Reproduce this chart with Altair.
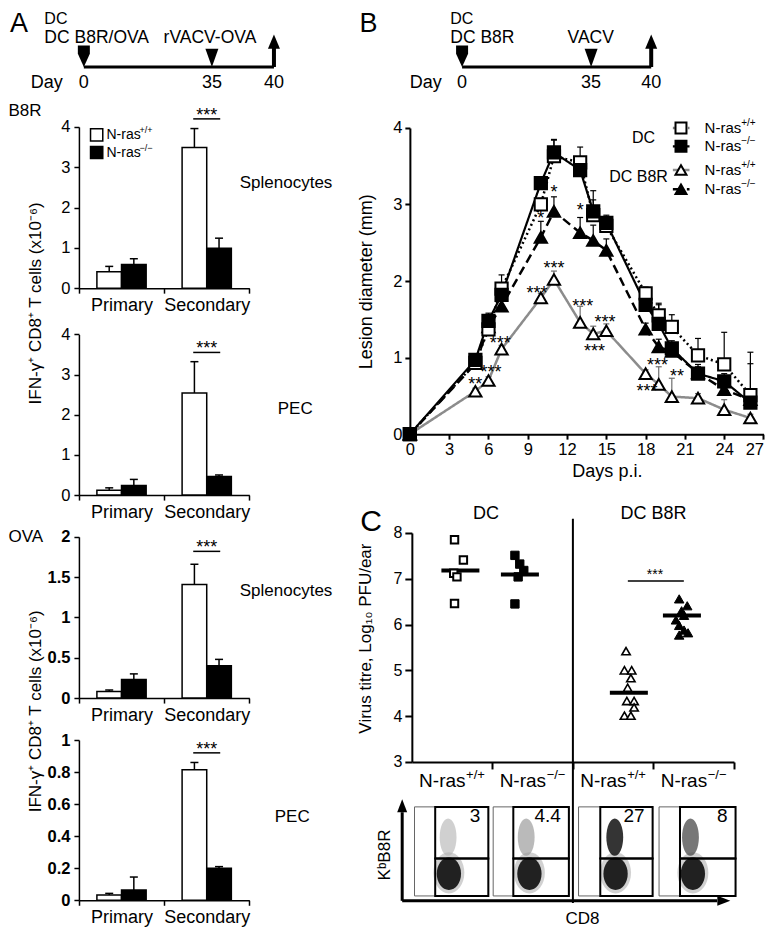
import altair as alt
import pandas as pd

FONT = "Liberation Sans"
W, H = 761, 919
KX, KY = 0.985, 0.983

# ----------------------------- data -----------------------------
timeline_days = [0, 35, 40]
bar_groups = ["Primary", "Secondary"]
bar_genos = ["wt", "ko"]

# Panel A bars, order: Primary wt, Primary ko, Secondary wt, Secondary ko
a_b8r_spl_mean = [0.41, 0.585, 3.49, 0.99]
a_b8r_spl_top = [0.54, 0.73, 3.96, 1.24]
a_b8r_pec_mean = [0.12, 0.24, 2.54, 0.46]
a_b8r_pec_top = [0.18, 0.39, 3.32, 0.50]
a_ova_spl_mean = [0.08, 0.23, 1.41, 0.40]
a_ova_spl_top = [0.10, 0.30, 1.66, 0.48]
a_ova_pec_mean = [0.033, 0.064, 0.814, 0.20]
a_ova_pec_top = [0.043, 0.145, 0.86, 0.21]

# Panel B lesion diameter (mm)
b_days = [0, 5, 6, 7, 10, 11, 13, 14, 15, 18, 19, 20, 22, 24, 26]
b_dc_wt = [0, 0.93, 1.37, 1.90, 3.00, 3.63, 3.55, 2.86, 2.72, 1.84, 1.55, 1.40, 1.03, 0.91, 0.51]
b_dc_wt_err = [0, 0.06, 0.08, 0.18, 0.08, 0.22, 0.20, 0.32, 0.10, 0.08, 0.14, 0.16, 0.22, 0.42, 0.56]
b_dc_ko = [0, 0.97, 1.48, 1.82, 3.28, 3.68, 3.45, 2.91, 2.76, 1.69, 1.44, 1.12, 0.79, 0.69, 0.41]
b_dc_ko_err = [0, 0.08, 0.10, 0.08, 0.08, 0.16, 0.10, 0.15, 0.10, 0.08, 0.27, 0.10, 0.12, 0.10, 0.51]
b_b8r_wt = [0, 0.56, 0.70, 1.11, 1.78, 2.02, 1.46, 1.31, 1.35, 0.79, 0.65, 0.49, 0.47, 0.32, 0.21]
b_b8r_wt_err = [0, 0.04, 0.05, 0.05, 0.06, 0.11, 0.21, 0.10, 0.09, 0.05, 0.23, 0.24, 0.06, 0.13, 0.05]
b_b8r_ko = [0, 0.92, 1.40, 1.67, 2.57, 2.91, 2.63, 2.53, 2.40, 1.37, 1.14, 1.08, 0.80, 0.58, 0.45]
b_b8r_ko_err = [0, 0.05, 0.05, 0.08, 0.21, 0.19, 0.20, 0.20, 0.15, 0.08, 0.10, 0.08, 0.08, 0.10, 0.08]
b_star_text = ["*", "*", "*", "***", "***", "***", "***", "***", "***", "***", "**", "***", "**", "***"]
b_star_day = [11, 13, 10, 11, 9.7, 13.2, 14.9, 14.1, 6.9, 6.2, 5.0, 18.9, 20.4, 18.1]
b_star_y = [3.22, 2.98, 2.87, 2.22, 1.90, 1.72, 1.52, 1.14, 1.24, 0.86, 0.71, 0.96, 0.81, 0.62]

# Panel C virus titre (log10 PFU/ear)
c_dc_wt_x = [0.53, 0.64, 0.52, 0.56, 0.53]
c_dc_wt_y = [7.85, 7.41, 7.12, 7.04, 6.46]
c_dc_ko_x = [1.28, 1.34, 1.39, 1.32, 1.28]
c_dc_ko_y = [7.51, 7.32, 7.18, 7.04, 6.45]
c_b8r_wt_x = [2.66, 2.64, 2.73, 2.72, 2.68, 2.67, 2.76, 2.76, 2.64, 2.72]
c_b8r_wt_y = [5.42, 5.00, 5.00, 4.83, 4.62, 4.33, 4.33, 4.19, 4.01, 4.01]
c_b8r_ko_x = [3.32, 3.42, 3.35, 3.38, 3.28, 3.32, 3.38, 3.32, 3.43]
c_b8r_ko_y = [6.56, 6.41, 6.30, 6.20, 6.10, 5.98, 5.88, 5.77, 5.82]
c_median_x = [0.603, 1.342, 2.695, 3.354]
c_median_y = [7.18, 7.09, 4.51, 6.20]
c_group_x = [0.5, 1.5, 2.5, 3.5]
c_sup = ["+/+", "\u2212/\u2212", "+/+", "\u2212/\u2212"]
flow_pct = ["3", "4.4", "27", "8"]
flow_box_left = [0.033, 1.01, 2.07, 3.07]
flow_box_right = [0.95, 1.95, 2.99, 4.02]
flow_gate_left = [0.29, 1.26, 2.34, 3.33]


# ----------------------------- helpers -----------------------------
def PX(v):
    return v * KX


def PY(v):
    return v * KY


def SX(domain, rng, **kw):
    return alt.Scale(domain=domain, range=[PX(v) for v in rng], nice=False, zero=False, **kw)


def SY(domain, rng, **kw):
    return alt.Scale(domain=domain, range=[PY(v) for v in rng], nice=False, zero=False, **kw)


def T(data, xs, ys, xt="Q", align="left", baseline="alphabetic", weight="normal", dx=0, dy=0, angle=0):
    return alt.Chart(pd.DataFrame(data)).mark_text(
        font=FONT, color="black", align=align, baseline=baseline, fontWeight=weight,
        dx=dx, dy=dy, angle=angle).encode(
        x=alt.X(f"x:{xt}", scale=xs, axis=None),
        y=alt.Y("y:Q", scale=ys, axis=None),
        text=alt.Text("t:N"),
        size=alt.Size("fs:Q", scale=None, legend=None))


PENT = "M-1,-3.6L1,-3.6L1,-2.2L0,0L-1,-2.2Z"
TRI_DOWN = "M-1,-2.8L1,-2.8L0,0Z"
ARROW_UP = "M0,0L1,2.4L-1,2.4Z"
ARROW_UP_S = "M0,0L1,2.6L-1,2.6Z"
ARROW_RIGHT_S = "M0,0L-2.6,1L-2.6,-1Z"
ELLIPSE = "M0,-1A0.75,1 0 1,1 0,1A0.75,1 0 1,1 0,-1Z"
ELLIPSE_N = "M0,-1A0.45,1 0 1,1 0,1A0.45,1 0 1,1 0,-1Z"

ALL = []


# ----------------------------- headers -----------------------------
def header(day_px, left_texts):
    xs = SX(timeline_days, day_px)
    ys = SY([0, 1, 2, 3], [16, 35.5, 60, 81])

    def X(f):
        return alt.X(f, scale=xs, axis=None)

    def Y(f):
        return alt.Y(f, scale=ys, axis=None)

    line = alt.Chart(pd.DataFrame({"a": [0], "b": [40], "r": [2]})).mark_rule(
        strokeWidth=3, color="black").encode(x=X("a:Q"), x2="b:Q", y=Y("r:Q"))
    shaft = alt.Chart(pd.DataFrame({"d": [40], "r1": [2], "r2": [1.2]})).mark_rule(
        strokeWidth=4, color="black").encode(x=X("d:Q"), y=Y("r1:Q"), y2="r2:Q")

    def marker(day, row, shape, size):
        return alt.Chart(pd.DataFrame({"d": [day], "r": [row]})).mark_point(
            shape=shape, size=size, filled=True, color="black", opacity=1, strokeWidth=0).encode(
            x=X("d:Q"), y=Y("r:Q"))

    texts = T({"x": [t[1] for t in left_texts], "y": [t[2] for t in left_texts],
               "t": [t[0] for t in left_texts], "fs": [t[3] for t in left_texts]}, xs, ys)
    nums = T({"x": timeline_days, "y": [3, 3, 3], "t": ["0", "35", "40"], "fs": [18, 18, 18]},
             xs, ys, align="center")
    return [line, shaft, marker(0, 2, PENT, 144), marker(35, 2, TRI_DOWN, 169),
            marker(40, 0.56, ARROW_UP, 144), texts, nums]


ALL += header([77, 207, 270], [("A", -20.2, 0.45, 27), ("DC", -10.8, 0, 16),
                                ("DC B8R/OVA", -10.8, 1, 17.5), ("rVACV-OVA", 21.8, 1, 17.5),
                                ("Day", -14.5, 3, 18)])
ALL += header([461, 592, 653], [("B", -27.8, 0.45, 27), ("DC", -3.2, 0, 16),
                                 ("DC B8R", -3.2, 1, 17.5), ("VACV", 28.6, 1, 17.5),
                                 ("Day", -14.2, 3, 18)])


# ----------------------------- bar panels -----------------------------
FILL = alt.Scale(domain=bar_genos, range=["white", "black"])


def bar_panel(mean, top, ydom, ypx, ticks, bold, sig, labels, ytitle=None, title_y=None):
    xs = alt.Scale(domain=bar_groups, range=[PX(72), PX(245)], paddingInner=0, paddingOuter=0)
    ys = SY(ydom, ypx)
    d = pd.DataFrame({"g": ["Primary", "Primary", "Secondary", "Secondary"],
                      "k": bar_genos * 2, "v": mean, "top": top})
    xo = alt.XOffset("k:N", scale=alt.Scale(domain=bar_genos, paddingInner=0, paddingOuter=0.73))
    ykw = dict(orient="left", offset=-PX(72), values=ticks, format="~g", tickSize=5, tickWidth=1.5,
               domainWidth=1.5, labelFontSize=16.5, labelFontWeight="bold" if bold else "normal",
               labelPadding=4, labelFlush=False, labelOverlap=False)
    if ytitle:
        ykw.update(title=ytitle, titleAngle=270, titleAlign="center", titleBaseline="middle",
                   titleX=PX(28) - PX(72), titleY=PY(title_y), titleFontSize=17,
                   titleFontWeight="normal")
    else:
        ykw.update(title=None)
    xaxis = alt.Axis(orient="bottom", offset=PY(ypx[0]) - H, tickBand="extent", tickSize=5,
                     tickWidth=1.5, domainWidth=1.5, labelFontSize=18, labelPadding=3,
                     labelAngle=0, title=None)
    bars = alt.Chart(d).mark_bar(stroke="black", strokeWidth=1.5).encode(
        x=alt.X("g:N", scale=xs, axis=xaxis), xOffset=xo,
        y=alt.Y("v:Q", scale=ys, axis=alt.Axis(**ykw)),
        fill=alt.Fill("k:N", scale=FILL, legend=None))
    err = alt.Chart(d).mark_rule(strokeWidth=1.5, color="black").encode(
        x=alt.X("g:N", scale=xs, axis=None), xOffset=xo,
        y=alt.Y("v:Q", scale=ys, axis=None), y2="top:Q")
    cap = alt.Chart(d).mark_tick(size=8, thickness=1.5, color="black", opacity=1).encode(
        x=alt.X("g:N", scale=xs, axis=None), xOffset=xo,
        y=alt.Y("top:Q", scale=ys, axis=None))
    sigline = alt.Chart(pd.DataFrame({"g": ["Secondary"], "y": [sig]})).mark_tick(
        size=27, thickness=1.5, color="black", opacity=1).encode(
        x=alt.X("g:N", scale=xs, axis=None), y=alt.Y("y:Q", scale=ys, axis=None))
    stars = T({"x": ["Secondary"], "y": [sig], "t": ["***"], "fs": [18]}, xs, ys, xt="N",
              align="center", dy=2)
    layers = [bars, err, cap, sigline, stars]
    for (txt, grp, yv, dx, base) in labels:
        layers.append(T({"x": [grp], "y": [yv], "t": [txt], "fs": [17]}, xs, ys, xt="N",
                        align="left", baseline=base, dx=dx))
    return layers


YT = "IFN-\u03b3\u207a CD8\u207a T cells (x10\u207b\u2076)"
ALL += bar_panel(a_b8r_spl_mean, a_b8r_spl_top, [0, 4], [285, 121], [0, 1, 2, 3, 4], False, 4.20,
                 [("Splenocytes", "Secondary", 2.6, 33, "middle"),
                  ("B8R", "Primary", 4.27, -113, "alphabetic")],
                 ytitle=YT, title_y=300)
ALL += bar_panel(a_b8r_pec_mean, a_b8r_pec_top, [0, 4], [495.5, 332], [0, 1, 2, 3, 4], False, 3.55,
                 [("PEC", "Secondary", 2.13, 71, "middle")])
ALL += bar_panel(a_ova_spl_mean, a_ova_spl_top, [0, 2], [702, 538], [0, 0.5, 1, 1.5, 2], True, 1.82,
                 [("Splenocytes", "Secondary", 1.33, 33, "middle"),
                  ("OVA", "Primary", 2.0, -113, "middle")],
                 ytitle=YT, title_y=715)
ALL += bar_panel(a_ova_pec_mean, a_ova_pec_top, [0, 1], [907.7, 744.7], [0, 0.2, 0.4, 0.6, 0.8, 1],
                 True, 0.92, [("PEC", "Secondary", 0.52, 68, "middle")])

# legend of panel A
lxs = SX([0, 10], [80, 180])
lys = SY([0, 1], [129, 147])
ALL += [
    alt.Chart(pd.DataFrame({"x": [1, 1], "y": [0, 1], "k": bar_genos})).mark_point(
        shape="square", size=150, filled=True, stroke="black", strokeWidth=1.5, opacity=1).encode(
        x=alt.X("x:Q", scale=lxs, axis=None), y=alt.Y("y:Q", scale=lys, axis=None),
        fill=alt.Fill("k:N", scale=FILL, legend=None)),
    T({"x": [2, 2], "y": [0, 1], "t": ["N-ras", "N-ras"], "fs": [14, 14]}, lxs, lys, baseline="middle"),
    T({"x": [5.35, 5.35], "y": [0, 1], "t": ["+/+", "\u2212/\u2212"], "fs": [9, 9]}, lxs, lys,
      baseline="middle", dy=-5),
]

# ----------------------------- panel B -----------------------------
xsB = SX([0, 27], [408, 767])
ysB = SY([0, 4], [433.5, 122])
axis_xB = alt.Axis(orient="bottom", offset=PY(433.5) - H, values=list(range(0, 28, 3)), tickSize=5,
                   tickWidth=2, domainWidth=2, labelFontSize=16.5, labelPadding=2, labelFlush=False,
                   labelOverlap=False, labelAngle=0,
                   labelAlign=alt.ExprRef(expr="datum.value == 27 ? 'right' : 'center'"),
                   title="Days p.i.", titleX=PX(608),
                   titleY=PY(477) - PY(433.5), titleAlign="center", titleBaseline="alphabetic",
                   titleFontSize=18, titleFontWeight="normal")
axis_yB = alt.Axis(orient="left", offset=-PX(408), values=[0, 1, 2, 3, 4], tickSize=5, tickWidth=2,
                   domainWidth=2, labelFontSize=16.5, labelPadding=3, labelFlush=False,
                   title="Lesion diameter (mm)", titleX=PX(364) - PX(408), titleY=PY(278),
                   titleAngle=270, titleAlign="center", titleBaseline="middle", titleFontSize=18,
                   titleFontWeight="normal")

series = [
    (b_b8r_wt, b_b8r_wt_err, "triangle-up", "white", "#8c8c8c", [1, 0], 2.5),
    (b_b8r_ko, b_b8r_ko_err, "triangle-up", "black", "black", [9, 5], 2.5),
    (b_dc_wt, b_dc_wt_err, "square", "white", "black", [2, 3], 2.5),
    (b_dc_ko, b_dc_ko_err, "square", "black", "black", [1, 0], 2.2),
]
lines_B, errs_B, marks_B = [], [], []
for i, (vals, errs, shape, fill, col, dash, lw) in enumerate(series):
    d = pd.DataFrame({"day": b_days, "v": vals, "top": [v + e for v, e in zip(vals, errs)]})
    first = i == 0
    lines_B.append(alt.Chart(d).mark_line(color=col, strokeDash=dash, strokeWidth=lw).encode(
        x=alt.X("day:Q", scale=xsB, axis=axis_xB if first else None),
        y=alt.Y("v:Q", scale=ysB, axis=axis_yB if first else None)))
    de = d[[e > 0 for e in errs]]
    ecol = "#6e6e6e" if col != "black" else "black"
    errs_B.append(alt.Chart(de).mark_rule(color=ecol, strokeWidth=1.2).encode(
        x=alt.X("day:Q", scale=xsB, axis=None), y=alt.Y("v:Q", scale=ysB, axis=None), y2="top:Q"))
    errs_B.append(alt.Chart(de).mark_tick(orient="horizontal", size=6, thickness=1.2, color=ecol,
                                          opacity=1).encode(
        x=alt.X("day:Q", scale=xsB, axis=None), y=alt.Y("top:Q", scale=ysB, axis=None)))
    marks_B.append(alt.Chart(d).mark_point(shape=shape, size=150, filled=True, fill=fill,
                                           stroke="black", strokeWidth=2, opacity=1).encode(
        x=alt.X("day:Q", scale=xsB, axis=None), y=alt.Y("v:Q", scale=ysB, axis=None)))

leg_rows = [4.0, 3.76, 3.45, 3.2]
leg_B = []
leg_line_col = ["#7a7a7a", "black", "#8c8c8c", "black"]
for (vals, errs, shape, fill, col, dash, lw), yy, lc in zip([series[2], series[3], series[0], series[1]],
                                                          leg_rows, leg_line_col):
    leg_B.append(alt.Chart(pd.DataFrame({"a": [20.08], "b": [21.35], "y": [yy]})).mark_rule(
        color=lc, strokeDash=dash, strokeWidth=lw).encode(
        x=alt.X("a:Q", scale=xsB, axis=None), x2="b:Q", y=alt.Y("y:Q", scale=ysB, axis=None)))
    leg_B.append(alt.Chart(pd.DataFrame({"x": [20.7], "y": [yy]})).mark_point(
        shape=shape, size=120, filled=True, fill=fill, stroke="black", strokeWidth=2, opacity=1).encode(
        x=alt.X("x:Q", scale=xsB, axis=None), y=alt.Y("y:Q", scale=ysB, axis=None)))
leg_B.append(T({"x": [22.5] * 4, "y": leg_rows, "t": ["N-ras"] * 4, "fs": [15] * 4}, xsB, ysB,
               baseline="middle"))
leg_B.append(T({"x": [25.3] * 4, "y": leg_rows, "t": ["+/+", "\u2212/\u2212", "+/+", "\u2212/\u2212"],
                "fs": [10] * 4}, xsB, ysB, baseline="middle", dy=-5))
leg_B.append(T({"x": [18.72, 19.7], "y": [3.87, 3.36], "t": ["DC", "DC B8R"], "fs": [16, 16]},
               xsB, ysB, align="right", baseline="middle"))
stars_B = T({"x": b_star_day, "y": b_star_y, "t": b_star_text, "fs": [18] * len(b_star_text)},
            xsB, ysB, align="center", baseline="middle", dy=5)
ALL += lines_B + errs_B + marks_B + leg_B + [stars_B]

# ----------------------------- panel C -----------------------------
xsC = SX([0, 4], [410, 737])
ysC = SY([3, 8], [767, 534])
axis_yC = alt.Axis(orient="left", offset=-PX(410), values=[3, 4, 5, 6, 7, 8], tickSize=7, tickWidth=2,
                   domainWidth=2, labelFontSize=16, labelPadding=3, labelFlush=False,
                   title="Virus titre, Log\u2081\u2080 PFU/ear", titleX=PX(363) - PX(410),
                   titleY=PY(641), titleAngle=270, titleAlign="center", titleBaseline="middle",
                   titleFontSize=17, titleFontWeight="normal")
axis_xC = alt.Axis(orient="bottom", offset=PY(767) - H, values=[1, 2, 3, 4], tickSize=7, tickWidth=2,
                   domainWidth=2, labels=False, title=None)


def XC(f, axis=None):
    return alt.X(f, scale=xsC, axis=axis)


def YC(f, axis=None):
    return alt.Y(f, scale=ysC, axis=axis)


divider = alt.Chart(pd.DataFrame({"x": [2], "y1": [8.31], "y2": [-0.08]})).mark_rule(
    color="black", strokeWidth=2).encode(x=XC("x:Q", axis_xC), y=YC("y1:Q", axis_yC), y2="y2:Q")
medians = alt.Chart(pd.DataFrame({"x": c_median_x, "y": c_median_y})).mark_tick(
    orient="horizontal", size=38, thickness=4, color="black", opacity=1).encode(x=XC("x:Q"), y=YC("y:Q"))


def cpts(xv, yv, shape, fill, size, sw):
    return alt.Chart(pd.DataFrame({"x": xv, "y": yv})).mark_point(
        shape=shape, size=size, filled=True, fill=fill, stroke="black", strokeWidth=sw, opacity=1).encode(
        x=XC("x:Q"), y=YC("y:Q"))


sigC = alt.Chart(pd.DataFrame({"x": [3.03], "y": [6.95]})).mark_tick(
    orient="horizontal", size=56, thickness=1.5, color="black", opacity=1).encode(x=XC("x:Q"), y=YC("y:Q"))
starsC = T({"x": [3.02], "y": [7.17], "t": ["***"], "fs": [14]}, xsC, ysC, align="center",
           baseline="middle", dy=4)
titlesC = T({"x": [0.92, 3.0], "y": [8.42, 8.42], "t": ["DC", "DC B8R"], "fs": [18, 18]}, xsC, ysC,
            align="center", baseline="middle")
letterC = T({"x": [-0.64], "y": [8.05], "t": ["C"], "fs": [30]}, xsC, ysC)
nras = T({"x": c_group_x, "y": [2.456] * 4, "t": ["N-ras"] * 4, "fs": [19] * 4}, xsC, ysC, dx=-33)
nsup = T({"x": c_group_x, "y": [2.456] * 4, "t": c_sup, "fs": [13] * 4}, xsC, ysC, dx=14, dy=-8)
ALL += [divider, medians,
        cpts(c_dc_wt_x, c_dc_wt_y, "square", "white", 55, 2),
        cpts(c_dc_ko_x, c_dc_ko_y, "square", "black", 70, 1),
        cpts(c_b8r_wt_x, c_b8r_wt_y, "triangle-up", "white", 70, 1.6),
        cpts(c_b8r_ko_x, c_b8r_ko_y, "triangle-up", "black", 90, 1),
        sigC, starsC, titlesC, letterC, nras, nsup]

# ----------------------------- flow cytometry plots -----------------------------
xsF = SX([0, 4], [410, 737])
ysF = SY([0, 1], [903.3, 812.7])


def XF(f):
    return alt.X(f, scale=xsF, axis=None)


def YF(f):
    return alt.Y(f, scale=ysF, axis=None)


boxes = alt.Chart(pd.DataFrame({"a": flow_box_left, "b": flow_box_right, "y0": [0] * 4, "y1": [1] * 4})).mark_rect(
    fill="white", stroke="#666666", strokeWidth=1).encode(x=XF("a:Q"), x2="b:Q", y=YF("y0:Q"), y2="y1:Q")
blob_rows = []
lower_x = [0.46, 1.46, 2.53, 3.49]
upper_x = [0.45, 1.42, 2.52, 3.46]
upper_col = ["#b0b0b0", "#959595", "#1e1e1e", "#4a4a4a"]
upper_op = [0.6, 0.65, 0.9, 0.75]
for i in range(4):
    blob_rows.append({"x": lower_x[i], "y": 0.26, "shape": ELLIPSE, "s": 1700, "c": "#9a9a9a", "o": 0.45})
    blob_rows.append({"x": lower_x[i], "y": 0.25, "shape": ELLIPSE, "s": 1050, "c": "#111111", "o": 0.92})
    blob_rows.append({"x": upper_x[i], "y": 0.66, "shape": ELLIPSE_N, "s": 1400, "c": upper_col[i], "o": upper_op[i]})
blobs = alt.Chart(pd.DataFrame(blob_rows)).mark_point(filled=True, strokeWidth=0).encode(
    x=XF("x:Q"), y=YF("y:Q"), shape=alt.Shape("shape:N", scale=None, legend=None),
    size=alt.Size("s:Q", scale=None, legend=None), color=alt.Color("c:N", scale=None, legend=None),
    opacity=alt.Opacity("o:Q", scale=None, legend=None))
gate_df = pd.DataFrame({"a": flow_gate_left * 2, "b": flow_box_right * 2,
                        "y0": [0.42] * 4 + [0] * 4, "y1": [1] * 4 + [0.42] * 4})
gates = alt.Chart(gate_df).mark_rect(fillOpacity=0, fill="white", stroke="black", strokeWidth=2).encode(
    x=XF("a:Q"), x2="b:Q", y=YF("y0:Q"), y2="y1:Q")
pct = T({"x": [r - 0.1 for r in flow_box_right], "y": [0.9] * 4, "t": flow_pct, "fs": [19] * 4},
        xsF, ysF, align="right", baseline="middle")
vshaft = alt.Chart(pd.DataFrame({"x": [-0.12], "a": [-0.055], "b": [0.94]})).mark_rule(
    strokeWidth=3, color="black").encode(x=XF("x:Q"), y=YF("a:Q"), y2="b:Q")
hshaft = alt.Chart(pd.DataFrame({"a": [-0.12], "b": [3.79], "y": [-0.055]})).mark_rule(
    strokeWidth=3, color="black").encode(x=XF("a:Q"), x2="b:Q", y=YF("y:Q"))
vhead = alt.Chart(pd.DataFrame({"x": [-0.12], "y": [1.087]})).mark_point(
    shape=ARROW_UP_S, size=100, filled=True, color="black", opacity=1, strokeWidth=0).encode(x=XF("x:Q"), y=YF("y:Q"))
hhead = alt.Chart(pd.DataFrame({"x": [3.955], "y": [-0.055]})).mark_point(
    shape=ARROW_RIGHT_S, size=100, filled=True, color="black", opacity=1, strokeWidth=0).encode(x=XF("x:Q"), y=YF("y:Q"))
kb8r = T({"x": [-0.33], "y": [0.46], "t": ["K\u1d47B8R"], "fs": [17]}, xsF, ysF, align="center",
         baseline="middle", angle=270)
cd8 = T({"x": [2.12], "y": [-0.26], "t": ["CD8"], "fs": [17]}, xsF, ysF, align="center", baseline="middle")
ALL += [boxes, blobs, gates, pct, vshaft, hshaft, vhead, hhead, kb8r, cd8]

# ----------------------------- assemble -----------------------------
chart = alt.layer(*ALL).resolve_scale(
    x="independent", y="independent", xOffset="independent").properties(
    width=W, height=H, autosize=alt.AutoSizeParams(type="none"), padding=0, background="white"
).configure_view(stroke=None).configure_axis(
    grid=False, domainColor="black", tickColor="black", labelColor="black", titleColor="black",
    labelFont=FONT, titleFont=FONT)

chart.save("out.html", embed_options={"renderer": "svg", "actions": False})
